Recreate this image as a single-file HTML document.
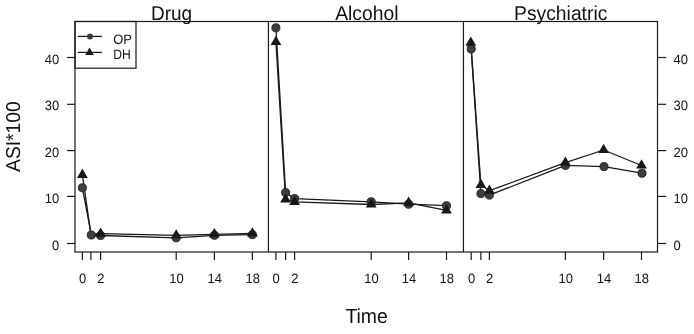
<!DOCTYPE html><html><head><meta charset="utf-8"><style>html,body{margin:0;padding:0;background:#fff;}svg{display:block;}#w{width:694px;height:334px;will-change:transform;}text{font-family:"Liberation Sans",sans-serif;fill:#111;text-rendering:geometricPrecision;}</style></head><body>
<div id="w"><svg width="694" height="334" viewBox="0 0 694 334">
<rect x="0" y="0" width="694" height="334" fill="#fff"/>
<text transform="translate(171.6,19.9) scale(1.0,1.044)" font-size="19.0" text-anchor="middle">Drug</text>
<text transform="translate(366.8,19.9) scale(1.0,1.044)" font-size="19.3" text-anchor="middle">Alcohol</text>
<text transform="translate(560.7,19.9) scale(1.0,1.044)" font-size="19.3" text-anchor="middle">Psychiatric</text>
<text transform="translate(19.9,136.6) rotate(-90) scale(1.0,1.044)" font-size="19.3" text-anchor="middle">ASI*100</text>
<text transform="translate(366.6,323.2) scale(1.0,1.044)" font-size="19.4" text-anchor="middle">Time</text>
<g stroke="#1a1a1a" stroke-width="1.2" fill="none">
<rect x="75.0" y="21.5" width="582.5" height="230.5"/>
<line x1="268.45" y1="21.5" x2="268.45" y2="252.0"/>
<line x1="463.45" y1="21.5" x2="463.45" y2="252.0"/>
<line x1="67.0" y1="243.50" x2="75.0" y2="243.50"/>
<line x1="657.5" y1="243.50" x2="666.2" y2="243.50"/>
<line x1="67.0" y1="196.40" x2="75.0" y2="196.40"/>
<line x1="657.5" y1="196.40" x2="666.2" y2="196.40"/>
<line x1="67.0" y1="150.60" x2="75.0" y2="150.60"/>
<line x1="657.5" y1="150.60" x2="666.2" y2="150.60"/>
<line x1="67.0" y1="104.30" x2="75.0" y2="104.30"/>
<line x1="657.5" y1="104.30" x2="666.2" y2="104.30"/>
<line x1="67.0" y1="57.50" x2="75.0" y2="57.50"/>
<line x1="657.5" y1="57.50" x2="666.2" y2="57.50"/>
<line x1="82.4" y1="252.0" x2="82.4" y2="260.0"/>
<line x1="90.9" y1="252.0" x2="90.9" y2="260.0"/>
<line x1="100.6" y1="252.0" x2="100.6" y2="260.0"/>
<line x1="176.2" y1="252.0" x2="176.2" y2="260.0"/>
<line x1="214.4" y1="252.0" x2="214.4" y2="260.0"/>
<line x1="252.4" y1="252.0" x2="252.4" y2="260.0"/>
<line x1="275.9" y1="252.0" x2="275.9" y2="260.0"/>
<line x1="285.6" y1="252.0" x2="285.6" y2="260.0"/>
<line x1="294.6" y1="252.0" x2="294.6" y2="260.0"/>
<line x1="371.2" y1="252.0" x2="371.2" y2="260.0"/>
<line x1="408.6" y1="252.0" x2="408.6" y2="260.0"/>
<line x1="446.5" y1="252.0" x2="446.5" y2="260.0"/>
<line x1="471.2" y1="252.0" x2="471.2" y2="260.0"/>
<line x1="480.9" y1="252.0" x2="480.9" y2="260.0"/>
<line x1="489.4" y1="252.0" x2="489.4" y2="260.0"/>
<line x1="565.4" y1="252.0" x2="565.4" y2="260.0"/>
<line x1="603.6" y1="252.0" x2="603.6" y2="260.0"/>
<line x1="641.5" y1="252.0" x2="641.5" y2="260.0"/>
<rect x="75.0" y="21.5" width="61.0" height="46.7"/>
</g>
<text transform="translate(59.3,249.95) scale(1.0,1.044)" font-size="13" text-anchor="end">0</text>
<text transform="translate(673.6,249.95) scale(1.0,1.044)" font-size="13">0</text>
<text transform="translate(59.3,202.95) scale(1.0,1.044)" font-size="13" text-anchor="end">10</text>
<text transform="translate(673.6,202.95) scale(1.0,1.044)" font-size="13">10</text>
<text transform="translate(59.3,156.55) scale(1.0,1.044)" font-size="13" text-anchor="end">20</text>
<text transform="translate(673.6,156.55) scale(1.0,1.044)" font-size="13">20</text>
<text transform="translate(59.3,110.25) scale(1.0,1.044)" font-size="13" text-anchor="end">30</text>
<text transform="translate(673.6,110.25) scale(1.0,1.044)" font-size="13">30</text>
<text transform="translate(59.3,64.45) scale(1.0,1.044)" font-size="13" text-anchor="end">40</text>
<text transform="translate(673.6,64.45) scale(1.0,1.044)" font-size="13">40</text>
<text transform="translate(82.7,283.2) scale(1.0,1.044)" font-size="13" text-anchor="middle">0</text>
<text transform="translate(100.9,283.2) scale(1.0,1.044)" font-size="13" text-anchor="middle">2</text>
<text transform="translate(176.5,283.2) scale(1.0,1.044)" font-size="13" text-anchor="middle">10</text>
<text transform="translate(214.7,283.2) scale(1.0,1.044)" font-size="13" text-anchor="middle">14</text>
<text transform="translate(252.7,283.2) scale(1.0,1.044)" font-size="13" text-anchor="middle">18</text>
<text transform="translate(276.2,283.2) scale(1.0,1.044)" font-size="13" text-anchor="middle">0</text>
<text transform="translate(294.9,283.2) scale(1.0,1.044)" font-size="13" text-anchor="middle">2</text>
<text transform="translate(371.5,283.2) scale(1.0,1.044)" font-size="13" text-anchor="middle">10</text>
<text transform="translate(408.9,283.2) scale(1.0,1.044)" font-size="13" text-anchor="middle">14</text>
<text transform="translate(446.8,283.2) scale(1.0,1.044)" font-size="13" text-anchor="middle">18</text>
<text transform="translate(471.5,283.2) scale(1.0,1.044)" font-size="13" text-anchor="middle">0</text>
<text transform="translate(489.7,283.2) scale(1.0,1.044)" font-size="13" text-anchor="middle">2</text>
<text transform="translate(565.7,283.2) scale(1.0,1.044)" font-size="13" text-anchor="middle">10</text>
<text transform="translate(603.9,283.2) scale(1.0,1.044)" font-size="13" text-anchor="middle">14</text>
<text transform="translate(641.8,283.2) scale(1.0,1.044)" font-size="13" text-anchor="middle">18</text>
<polyline points="82.40,187.80 91.30,235.00 100.60,235.50 176.20,237.80 214.40,235.30 252.40,234.70" fill="none" stroke="#1a1a1a" stroke-width="1.3" stroke-linejoin="round"/>
<polyline points="82.40,174.80 90.90,234.30 100.60,233.70 176.20,235.40 214.40,234.30 252.40,233.40" fill="none" stroke="#1a1a1a" stroke-width="1.3" stroke-linejoin="round"/>
<polyline points="275.90,27.80 285.60,192.60 294.60,198.60 371.20,201.80 408.60,204.20 446.50,205.70" fill="none" stroke="#1a1a1a" stroke-width="1.3" stroke-linejoin="round"/>
<polyline points="275.90,42.00 285.60,199.40 294.60,201.90 371.20,204.50 408.60,202.80 446.50,210.40" fill="none" stroke="#1a1a1a" stroke-width="1.3" stroke-linejoin="round"/>
<polyline points="471.20,48.90 480.90,193.60 489.40,195.10 565.40,165.40 604.00,166.60 642.00,173.20" fill="none" stroke="#1a1a1a" stroke-width="1.3" stroke-linejoin="round"/>
<polyline points="470.80,42.60 480.90,185.00 489.40,190.70 565.40,162.70 603.60,150.00 641.50,165.50" fill="none" stroke="#1a1a1a" stroke-width="1.3" stroke-linejoin="round"/>
<circle cx="82.40" cy="187.80" r="4.05" fill="#3e3e3e" stroke="#1e1e1e" stroke-width="0.9"/>
<circle cx="91.30" cy="235.00" r="4.05" fill="#3e3e3e" stroke="#1e1e1e" stroke-width="0.9"/>
<circle cx="100.60" cy="235.50" r="4.05" fill="#3e3e3e" stroke="#1e1e1e" stroke-width="0.9"/>
<circle cx="176.20" cy="237.80" r="4.05" fill="#3e3e3e" stroke="#1e1e1e" stroke-width="0.9"/>
<circle cx="214.40" cy="235.30" r="4.05" fill="#3e3e3e" stroke="#1e1e1e" stroke-width="0.9"/>
<circle cx="252.40" cy="234.70" r="4.05" fill="#3e3e3e" stroke="#1e1e1e" stroke-width="0.9"/>
<polygon points="82.40,168.58 87.79,177.91 77.01,177.91" fill="#181818"/>
<polygon points="100.60,227.48 105.99,236.81 95.21,236.81" fill="#181818"/>
<polygon points="176.20,229.18 181.59,238.51 170.81,238.51" fill="#181818"/>
<polygon points="214.40,228.08 219.79,237.41 209.01,237.41" fill="#181818"/>
<polygon points="252.40,227.18 257.79,236.51 247.01,236.51" fill="#181818"/>
<circle cx="275.90" cy="27.80" r="4.05" fill="#3e3e3e" stroke="#1e1e1e" stroke-width="0.9"/>
<circle cx="285.60" cy="192.60" r="4.05" fill="#3e3e3e" stroke="#1e1e1e" stroke-width="0.9"/>
<circle cx="294.60" cy="198.60" r="4.05" fill="#3e3e3e" stroke="#1e1e1e" stroke-width="0.9"/>
<circle cx="371.20" cy="201.80" r="4.05" fill="#3e3e3e" stroke="#1e1e1e" stroke-width="0.9"/>
<circle cx="408.60" cy="204.20" r="4.05" fill="#3e3e3e" stroke="#1e1e1e" stroke-width="0.9"/>
<circle cx="446.50" cy="205.70" r="4.05" fill="#3e3e3e" stroke="#1e1e1e" stroke-width="0.9"/>
<polygon points="275.90,35.78 281.29,45.11 270.51,45.11" fill="#181818"/>
<polygon points="285.60,193.18 290.99,202.51 280.21,202.51" fill="#181818"/>
<polygon points="294.60,195.68 299.99,205.01 289.21,205.01" fill="#181818"/>
<polygon points="371.20,198.28 376.59,207.61 365.81,207.61" fill="#181818"/>
<polygon points="408.60,196.58 413.99,205.91 403.21,205.91" fill="#181818"/>
<polygon points="446.50,204.18 451.89,213.51 441.11,213.51" fill="#181818"/>
<circle cx="471.20" cy="48.90" r="4.05" fill="#3e3e3e" stroke="#1e1e1e" stroke-width="0.9"/>
<circle cx="480.90" cy="193.60" r="4.05" fill="#3e3e3e" stroke="#1e1e1e" stroke-width="0.9"/>
<circle cx="489.40" cy="195.10" r="4.05" fill="#3e3e3e" stroke="#1e1e1e" stroke-width="0.9"/>
<circle cx="565.40" cy="165.40" r="4.05" fill="#3e3e3e" stroke="#1e1e1e" stroke-width="0.9"/>
<circle cx="604.00" cy="166.60" r="4.05" fill="#3e3e3e" stroke="#1e1e1e" stroke-width="0.9"/>
<circle cx="642.00" cy="173.20" r="4.05" fill="#3e3e3e" stroke="#1e1e1e" stroke-width="0.9"/>
<polygon points="470.80,36.38 476.19,45.71 465.41,45.71" fill="#181818"/>
<polygon points="480.90,178.78 486.29,188.11 475.51,188.11" fill="#181818"/>
<polygon points="489.40,184.48 494.79,193.81 484.01,193.81" fill="#181818"/>
<polygon points="565.40,156.48 570.79,165.81 560.01,165.81" fill="#181818"/>
<polygon points="603.60,143.78 608.99,153.11 598.21,153.11" fill="#181818"/>
<polygon points="641.50,159.28 646.89,168.61 636.11,168.61" fill="#181818"/>
<line x1="77.9" y1="36.4" x2="102" y2="36.4" stroke="#1a1a1a" stroke-width="1.3"/>
<circle cx="90" cy="36.6" r="3.0" fill="#3a3a3a"/>
<line x1="77.9" y1="52.4" x2="102" y2="52.4" stroke="#1a1a1a" stroke-width="1.3"/>
<polygon points="89.50,47.42 93.81,54.89 85.19,54.89" fill="#181818"/>
<text transform="translate(113.2,44.4) scale(1.0,1.044)" font-size="13">OP</text>
<text transform="translate(113.3,58.7) scale(0.935,1.044)" font-size="13">DH</text>
</svg></div></body></html>
